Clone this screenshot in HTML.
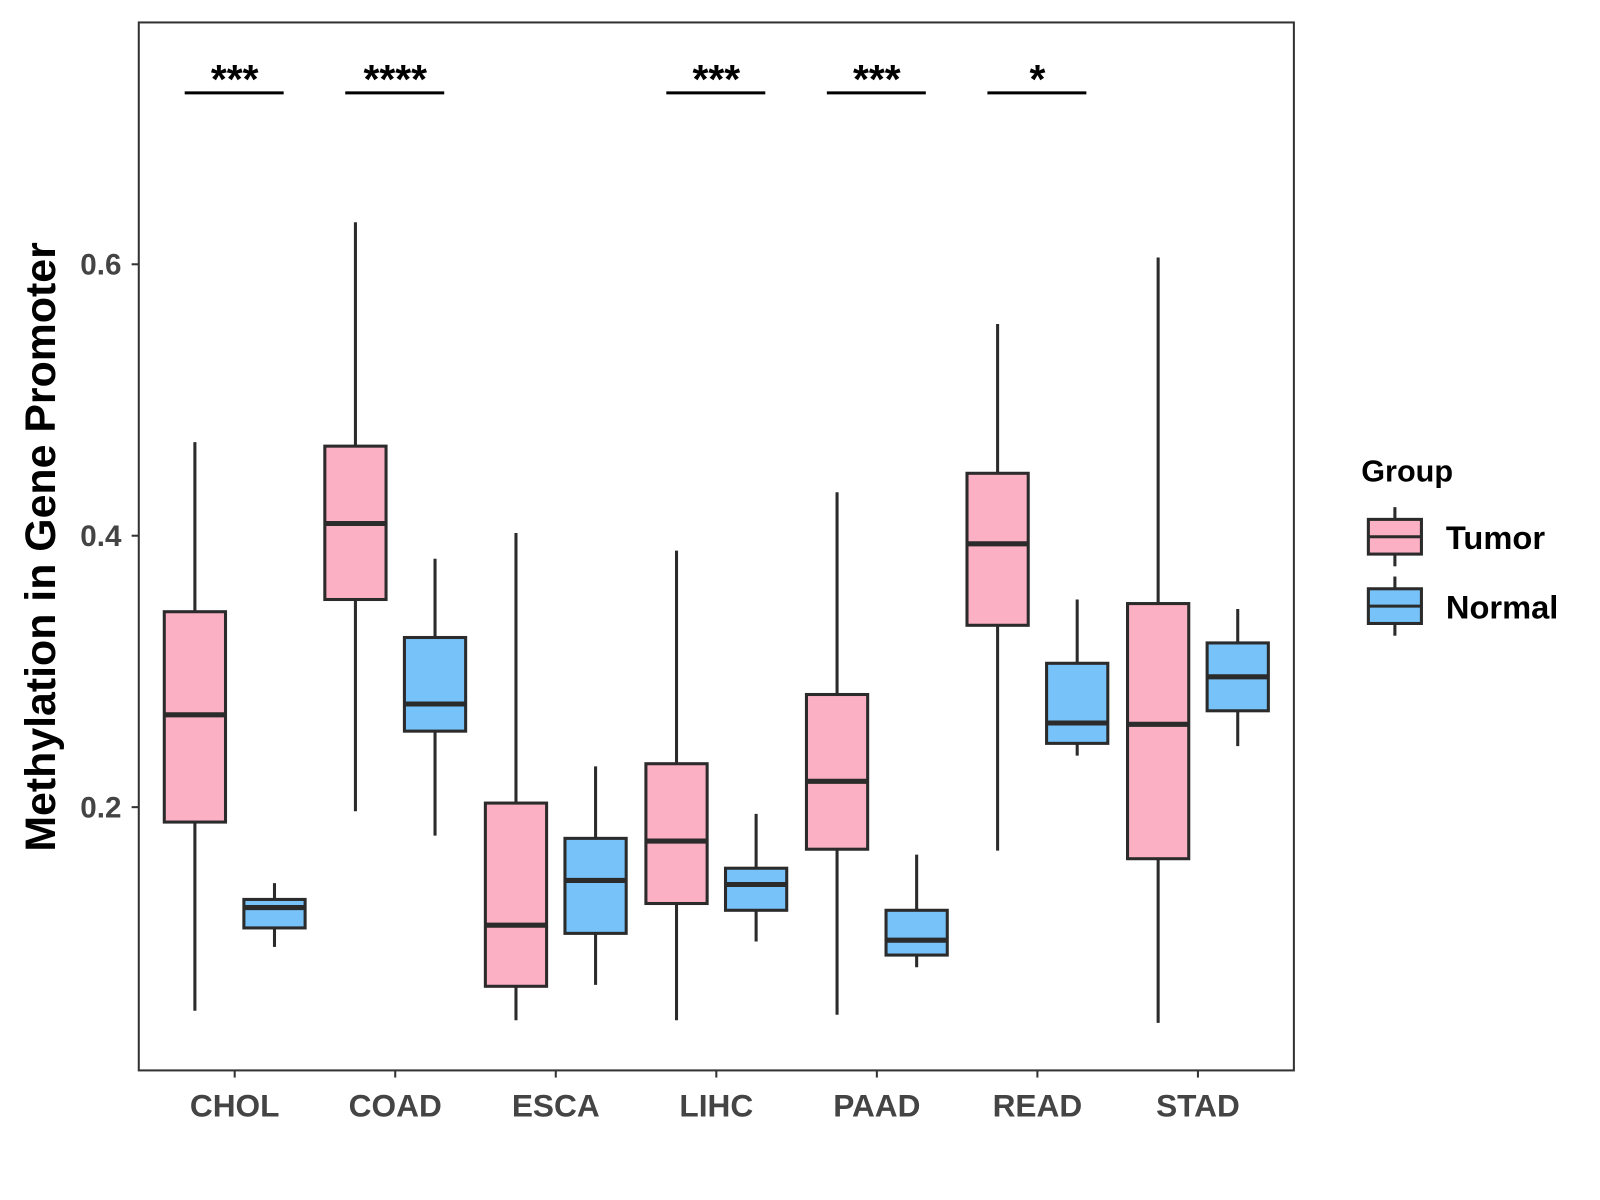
<!DOCTYPE html>
<html><head><meta charset="utf-8"><style>
html,body{margin:0;padding:0;background:#fff;}
svg{display:block;font-family:"Liberation Sans",Arial,sans-serif;}
</style></head><body>
<svg id="chart" width="1600" height="1200" viewBox="0 0 1568 1176" xmlns="http://www.w3.org/2000/svg">
<rect x="0" y="0" width="1568" height="1176" fill="#fff"/>
<g id="plot"></g>
<rect x="136" y="22" width="1132" height="1027" fill="none" stroke="#333" stroke-width="2"/>
<text transform="translate(54,536) rotate(-90)" text-anchor="middle" font-size="42" font-weight="bold" fill="#000">Methylation in Gene Promoter</text>
<g>
<text x="1334" y="472" font-size="30" font-weight="bold">Group</text>
<g>
<line x1="1367" y1="497" x2="1367" y2="555" stroke="#2b2b2b" stroke-width="3"/>
<rect x="1341" y="509" width="52" height="34" fill="#fbb0c3" stroke="#2b2b2b" stroke-width="3"/>
<line x1="1341" y1="526" x2="1393" y2="526" stroke="#2b2b2b" stroke-width="3"/>
<text x="1417" y="538" font-size="32" font-weight="bold">Tumor</text>
</g>
<g>
<line x1="1367" y1="565" x2="1367" y2="623" stroke="#2b2b2b" stroke-width="3"/>
<rect x="1341" y="577" width="52" height="34" fill="#77c2f8" stroke="#2b2b2b" stroke-width="3"/>
<line x1="1341" y1="594" x2="1393" y2="594" stroke="#2b2b2b" stroke-width="3"/>
<text x="1417" y="606" font-size="32" font-weight="bold">Normal</text>
</g>
</g>
</svg>
<script>
const categories = ["CHOL","COAD","ESCA","LIHC","PAAD","READ","STAD"];
// [whiskerLow, q1, median, q3, whiskerHigh]
const tumorStats = [
  [0.050,0.189,0.268,0.344,0.469],
  [0.197,0.353,0.409,0.466,0.631],
  [0.043,0.068,0.113,0.203,0.402],
  [0.043,0.129,0.175,0.232,0.389],
  [0.047,0.169,0.219,0.283,0.432],
  [0.168,0.334,0.394,0.446,0.556],
  [0.041,0.162,0.261,0.350,0.605]
];
const normalStats = [
  [0.097,0.111,0.126,0.132,0.144],
  [0.179,0.256,0.276,0.325,0.383],
  [0.069,0.107,0.146,0.177,0.230],
  [0.101,0.124,0.143,0.155,0.195],
  [0.082,0.091,0.102,0.124,0.165],
  [0.238,0.247,0.262,0.306,0.353],
  [0.245,0.271,0.296,0.321,0.346]
];
const significance = ["***","****","","***","***","*",""];
const yTicks = [0.2,0.4,0.6];
const yTickLabels = ["0.2","0.4","0.6"];

const NS="http://www.w3.org/2000/svg";
const g=document.getElementById('plot');
function y(v){return 791-(v-0.2)*1330;}
function x(i){return 230+i*157.33;}
function mk(tag,attrs,parent){const e=document.createElementNS(NS,tag);for(const k in attrs)e.setAttribute(k,attrs[k]);(parent||g).appendChild(e);return e;}

yTicks.forEach((t,i)=>{
  const tk=mk('line',{x1:129,x2:136,y1:y(t),y2:y(t),stroke:'#333','stroke-width':2});
  
  
  const tl=mk('text',{x:119,y:y(t)+10,'text-anchor':'end','font-size':29,'font-weight':'bold',fill:'#444'});
  tl.textContent=yTickLabels[i];
  
  
});
categories.forEach((c,i)=>{
  const tk=mk('line',{x1:x(i),x2:x(i),y1:1049,y2:1056,stroke:'#333','stroke-width':2});
  
  
  const tl=mk('text',{x:x(i),y:1094,'text-anchor':'middle','font-size':31,'font-weight':'bold',fill:'#444'});
  tl.textContent=c;
  
  
});
function box(cx,s,fill,name){
  const grp=mk('g',{});
  
  
  mk('line',{x1:cx,x2:cx,y1:y(s[0]),y2:y(s[4]),stroke:'#2b2b2b','stroke-width':3},grp);
  mk('rect',{x:cx-30,y:y(s[3]),width:60,height:y(s[1])-y(s[3]),fill:fill,stroke:'#2b2b2b','stroke-width':3},grp);
  mk('line',{x1:cx-30,x2:cx+30,y1:y(s[2]),y2:y(s[2]),stroke:'#2b2b2b','stroke-width':5},grp);
}
categories.forEach((c,i)=>{
  box(x(i)-39,tumorStats[i],'#fbb0c3','box-tumor-'+c.toLowerCase());
  box(x(i)+39,normalStats[i],'#77c2f8','box-normal-'+c.toLowerCase());
  if(significance[i]){
    const sl=mk('line',{x1:x(i)-49,x2:x(i)+48,y1:91,y2:91,stroke:'#000','stroke-width':3});
    
    
    const st=mk('text',{x:x(i),y:91,'text-anchor':'middle','font-size':40,'font-weight':'bold',fill:'#000'});
    st.textContent=significance[i];
    
    
  }
});
</script>
</body></html>
